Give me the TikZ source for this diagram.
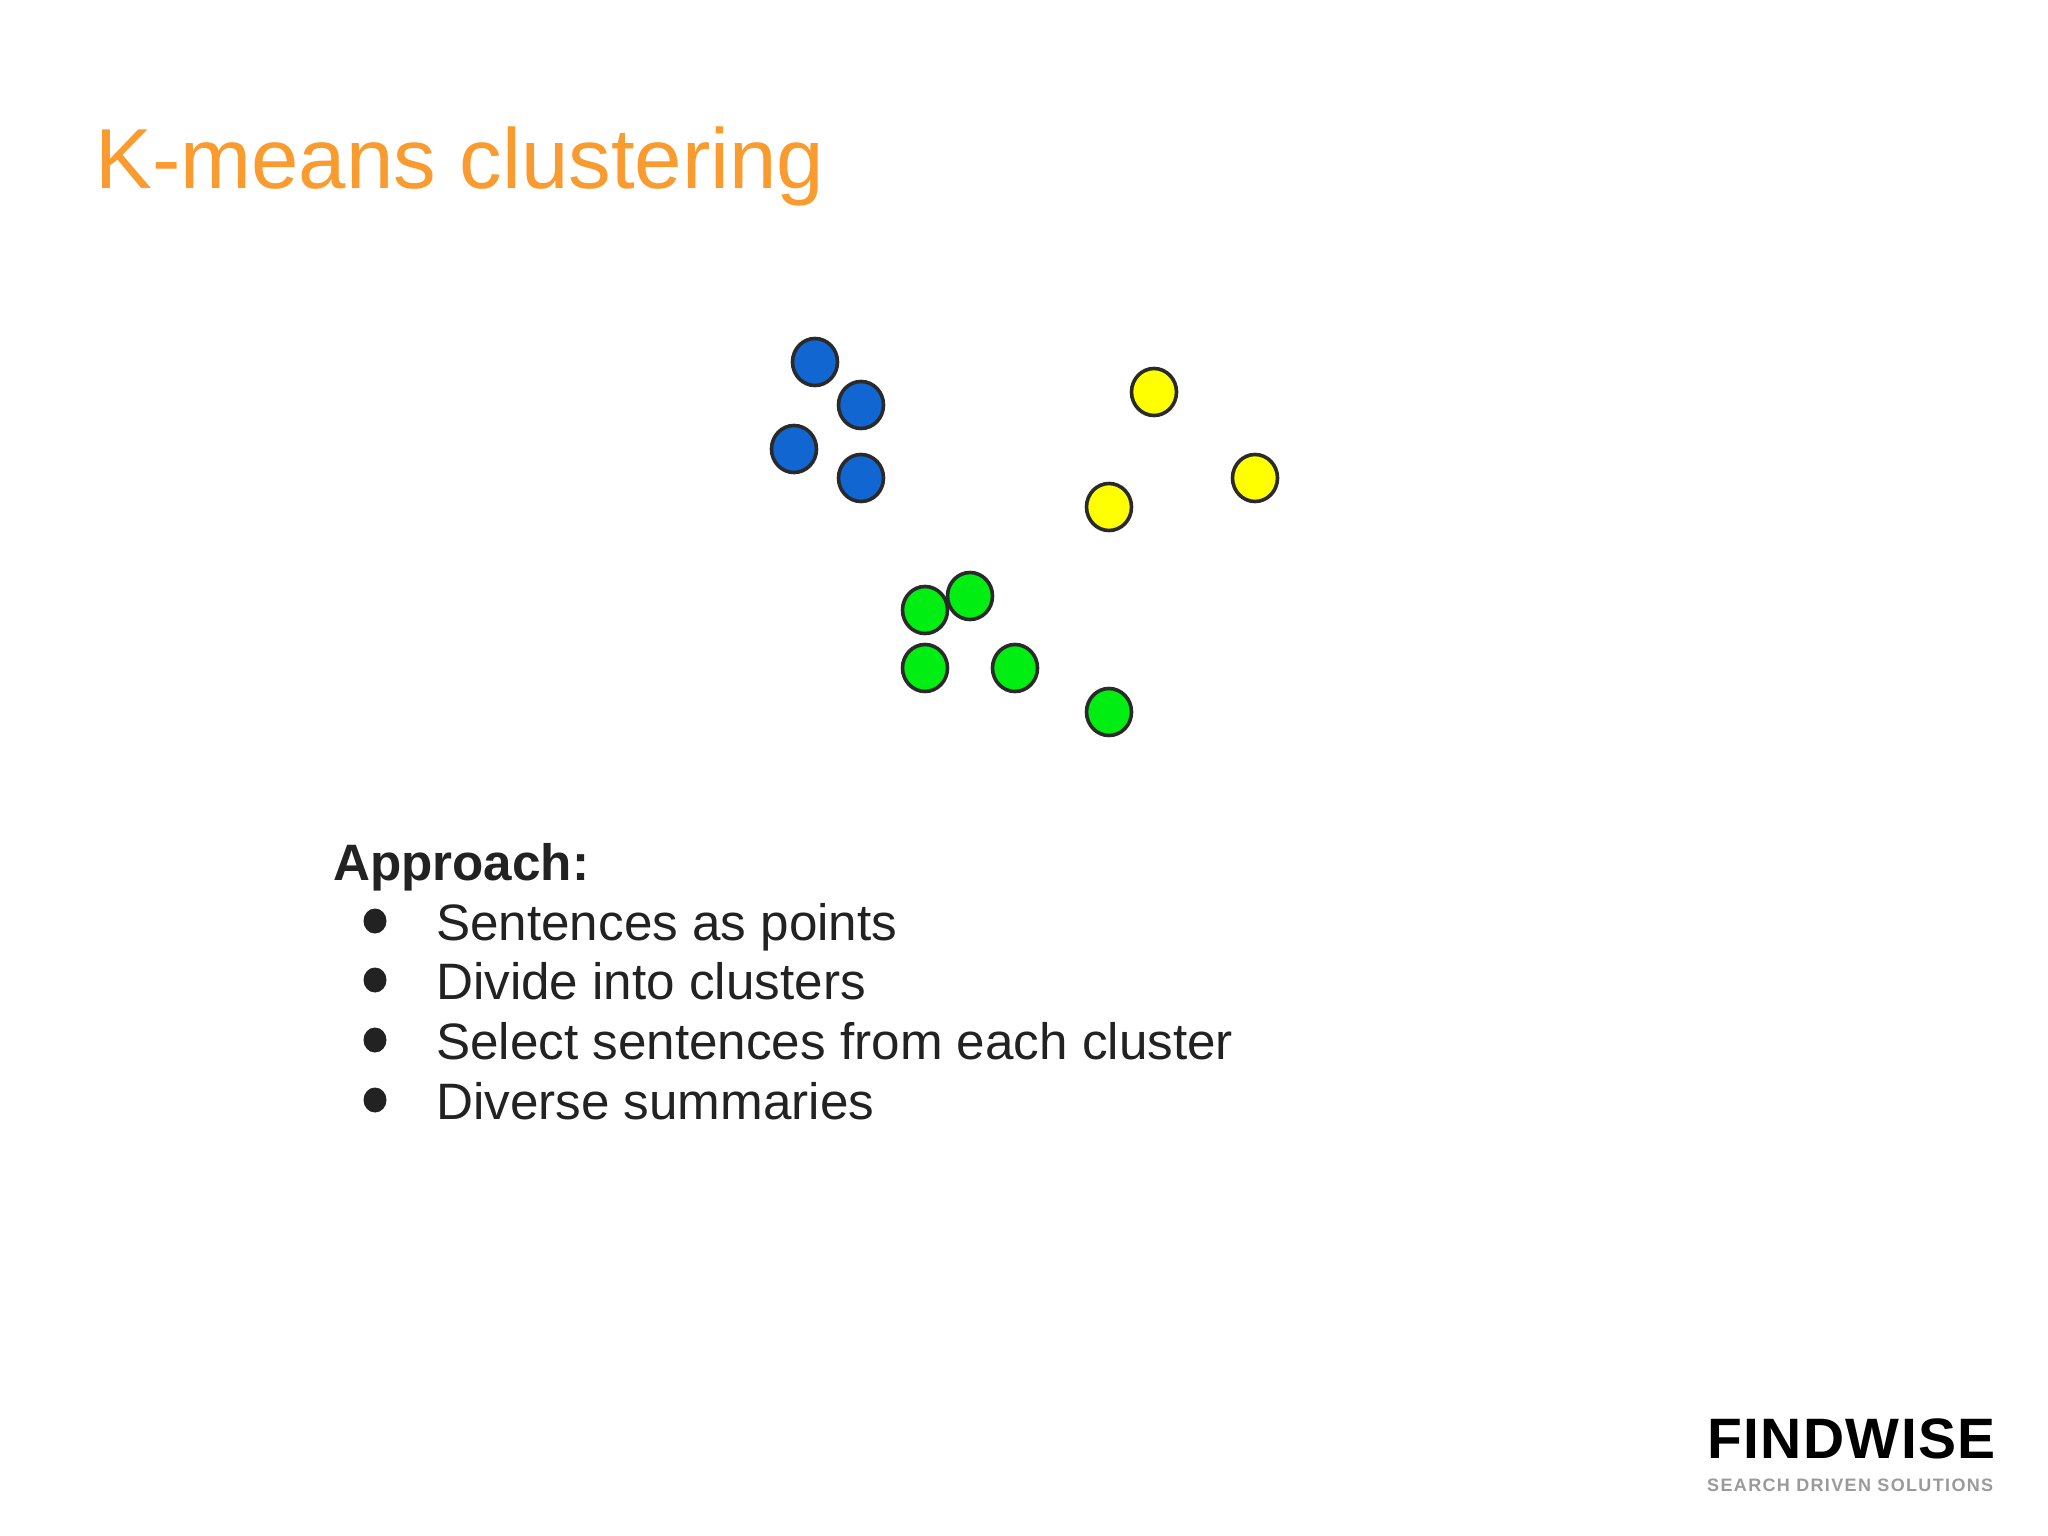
\documentclass[tikz,border=0pt]{standalone}
\usepackage{fontspec}
\setmainfont{Liberation Sans}
\usetikzlibrary{shapes.geometric}
\definecolor{titleor}{HTML}{F99B2F}
\definecolor{bodyink}{HTML}{222222}
\definecolor{ptblue}{HTML}{1166D2}
\definecolor{ptyellow}{HTML}{FFFF00}
\definecolor{ptgreen}{HTML}{00EE11}
\definecolor{ptedge}{HTML}{2A2A2A}
\definecolor{taggray}{HTML}{9A9A9A}
\tikzset{
  x=1pt,y=-1pt,
  pt/.style={ellipse,draw=ptedge,line width=3.6pt,minimum width=45pt,minimum height=47pt,inner sep=0pt},
  bl/.style={pt,fill=ptblue},
  yl/.style={pt,fill=ptyellow},
  gr/.style={pt,fill=ptgreen},
  titletext/.style={anchor=base west,inner sep=0pt,text=titleor,font=\fontsize{85.2}{90}\selectfont},
  bodytext/.style={anchor=base west,inner sep=0pt,text=bodyink,font=\fontsize{51.2}{60}\selectfont},
  headtext/.style={bodytext,font=\fontsize{51.2}{60}\selectfont\bfseries},
  bul/.style={ellipse,fill=bodyink,minimum width=23pt,minimum height=25pt,inner sep=0pt},
}
\begin{document}
\begin{tikzpicture}
\useasboundingbox (0,0) rectangle (2048,1536);
\fill[white] (0,0) rectangle (2048,1536);
\node[titletext] (title) at (95,189) {K-means clustering};
% blue
\node[bl] (b1) at (815,362) {};
\node[bl] (b2) at (861,405) {};
\node[bl] (b3) at (794,449) {};
\node[bl] (b4) at (861,478) {};
% yellow
\node[yl] (y1) at (1154,392) {};
\node[yl] (y2) at (1255,478) {};
\node[yl] (y3) at (1109,507) {};
% green
\node[gr] (g1) at (970,596) {};
\node[gr] (g2) at (925,610) {};
\node[gr] (g3) at (925,668) {};
\node[gr] (g4) at (1015,668) {};
\node[gr] (g5) at (1109,712) {};
% text
\node[headtext] (head) at (333,880) {Approach:};
\node[bul] (d1) at (375,921) {};
\node[bul] (d2) at (375,980) {};
\node[bul] (d3) at (375,1040) {};
\node[bul] (d4) at (375,1100) {};
\node[bodytext] (i1) at (436,940) {Sentences as points};
\node[bodytext] (i2) at (436,999) {Divide into clusters};
\node[bodytext] (i3) at (436,1059) {Select sentences from each cluster};
\node[bodytext] (i4) at (436,1119) {Diverse summaries};
% logo
\node[anchor=base west,inner sep=0pt,text=black,font=\fontsize{57}{60}\selectfont\bfseries] (logo) at (1707,1458) {\addfontfeature{LetterSpace=2.5}FINDWISE};
\node[anchor=base west,inner sep=0pt,text=taggray,font=\fontsize{18}{20}\selectfont\bfseries] (tag) at (1707,1491) {\addfontfeature{LetterSpace=7.5}SEARCH DRIVEN SOLUTIONS};
\end{tikzpicture}
\end{document}
